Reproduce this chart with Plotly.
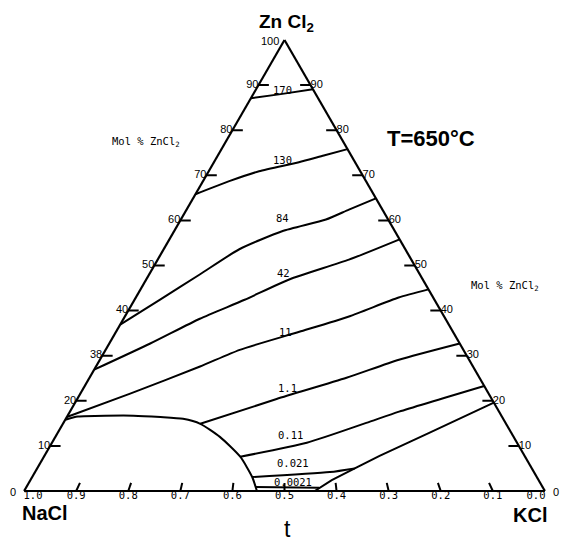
import plotly.graph_objects as go

# ---------------------------------------------------------------------------
# Iso-pressure curves in the NaCl-KCl-ZnCl2 system at 650 C.
# Each curve is given as ZnCl2 content (mol %) and t = NaCl / (NaCl + KCl).
# ---------------------------------------------------------------------------
iso_values = ["170", "130", "84", "42", "11", "1.1", "0.11", "0.021", "0.0021"]

zn_170 = [87.1, 88.0, 89.1]
t_170 = [1.0, 0.56, 0.0]

zn_130 = [65.8, 68.7, 70.9, 72.9, 74.4, 75.8]
t_130 = [1.0, 0.839, 0.668, 0.398, 0.205, 0.0]

zn_84 = [36.9, 42.4, 48.0, 53.6, 57.6, 60.2, 62.4, 64.9]
t_84 = [1.0, 0.916, 0.813, 0.687, 0.511, 0.300, 0.171, 0.0]

zn_42 = [26.9, 32.7, 38.2, 42.4, 46.9, 51.3, 55.8]
t_42 = [1.0, 0.883, 0.763, 0.633, 0.483, 0.246, 0.0]

zn_11 = [16.4, 21.6, 27.6, 31.3, 35.3, 38.7, 42.9, 44.7]
t_11 = [1.0, 0.878, 0.724, 0.625, 0.456, 0.298, 0.116, 0.0]

zn_1_1 = [14.9, 20.4, 25.1, 29.1, 32.7]
t_1_1 = [0.690, 0.519, 0.341, 0.190, 0.0]

zn_0_11 = [7.6, 10.7, 15.1, 17.6, 23.3]
t_0_11 = [0.592, 0.452, 0.315, 0.233, 0.0]

zn_0_021 = [3.1, 4.2, 5.0]
t_0_021 = [0.564, 0.409, 0.358]

zn_0_0021 = [0.9, 0.7]
t_0_0021 = [0.556, 0.433]

# Phase boundaries: the curved solid-liquid boundary and the straight one
zn_dome = [15.8, 16.5, 16.7, 16.4, 16.0, 14.9, 12.0, 7.6, 3.1, 0.0]
t_dome = [1.0, 0.975, 0.848, 0.785, 0.732, 0.690, 0.641, 0.592, 0.564, 0.553]

zn_edge = [0.0, 2.4, 5.0, 7.8, 12.9, 19.6]
t_edge = [0.442, 0.407, 0.358, 0.302, 0.181, 0.0]

# Axis ticks
left_ticks = [10, 20, 30, 40, 50, 60, 70, 80, 90]
left_labels = ["10", "20", "38", "40", "50", "60", "70", "80", "90"]
right_ticks = [10, 20, 30, 40, 50, 60, 70, 80, 90]
right_labels = ["10", "20", "30", "40", "50", "60", "70", "80", "90"]
t_ticks = [0.9, 0.8, 0.7, 0.6, 0.5, 0.4, 0.3, 0.2, 0.1]
t_labels = ["1.0", "0.9", "0.8", "0.7", "0.6", "0.5", "0.4", "0.3", "0.2", "0.1", "0.0"]
t_label_values = [1.0, 0.9, 0.8, 0.7, 0.6, 0.5, 0.4, 0.3, 0.2, 0.1, 0.0]

SUM = 100.0


def to_abc(zn, t):
    """ZnCl2 mol % and t -> ternary (a=ZnCl2, b=NaCl, c=KCl)."""
    a = list(zn)
    b = [(SUM - z) * tt for z, tt in zip(zn, t)]
    c = [(SUM - z) * (1 - tt) for z, tt in zip(zn, t)]
    return a, b, c


fig = go.Figure()

curves = [
    (zn_170, t_170), (zn_130, t_130), (zn_84, t_84), (zn_42, t_42),
    (zn_11, t_11), (zn_1_1, t_1_1), (zn_0_11, t_0_11),
    (zn_0_021, t_0_021), (zn_0_0021, t_0_0021), (zn_dome, t_dome),
]
for zn, t in curves:
    a, b, c = to_abc(zn, t)
    fig.add_trace(go.Scatterternary(
        a=a, b=b, c=c, mode="lines",
        line=dict(color="black", width=2, shape="spline", smoothing=0.6),
        hoverinfo="skip", showlegend=False))

a, b, c = to_abc(zn_edge, t_edge)
fig.add_trace(go.Scatterternary(
    a=a, b=b, c=c, mode="lines", line=dict(color="black", width=2),
    hoverinfo="skip", showlegend=False))

# Tick marks: horizontal dashes on both slanted sides, apex-pointing dashes on the base
TICK = 2.0
BASE_TICK = 1.8
ta, tb, tc = [], [], []
for v in left_ticks:
    ta += [v, v, None]
    tb += [SUM - v, SUM - v - TICK, None]
    tc += [0, TICK, None]
for v in right_ticks:
    ta += [v, v, None]
    tb += [0, TICK, None]
    tc += [SUM - v, SUM - v - TICK, None]
for tv in t_ticks:
    ta += [0, BASE_TICK, None]
    tb += [SUM * tv, (SUM - BASE_TICK) * tv, None]
    tc += [SUM * (1 - tv), (SUM - BASE_TICK) * (1 - tv), None]
fig.add_trace(go.Scatterternary(
    a=ta, b=tb, c=tc, mode="lines", line=dict(color="black", width=2),
    connectgaps=False, hoverinfo="skip", showlegend=False))

tick_font = dict(family="Liberation Sans", size=11, color="black")
mono_font = dict(family="DejaVu Sans Mono", size=10.5, color="black")

# Left side labels (ZnCl2 mol %)
fig.add_trace(go.Scatterternary(
    a=left_ticks, b=[SUM - v for v in left_ticks], c=[0] * len(left_ticks),
    mode="text", text=left_labels, textposition="middle left",
    textfont=tick_font, cliponaxis=False, hoverinfo="skip", showlegend=False))

# Right side labels (ZnCl2 mol %)
fig.add_trace(go.Scatterternary(
    a=right_ticks, b=[0] * len(right_ticks), c=[SUM - v for v in right_ticks],
    mode="text", text=right_labels, textposition="middle right",
    textfont=tick_font, cliponaxis=False, hoverinfo="skip", showlegend=False))

# Base labels (t); end labels nudged inward from the corners
tb_pos = [min(max(v, 0.017), 0.983) for v in t_label_values]
fig.add_trace(go.Scatterternary(
    a=[0] * len(tb_pos), b=[SUM * v for v in tb_pos], c=[SUM * (1 - v) for v in tb_pos],
    mode="text", text=t_labels, textposition="bottom center",
    textfont=mono_font, cliponaxis=False, hoverinfo="skip", showlegend=False))

axis_style = dict(showticklabels=False, showgrid=False, ticks="",
                  linecolor="black", linewidth=2.2, title=dict(text=""))

W, H = 561, 543
ML, MR, MT, MB = 24, 16, 40, 52
PW, PH = W - ML - MR, H - MT - MB


def paper(px, py):
    return (px - ML) / PW, (H - MB - py) / PH


annotations = []


def note(text, px, py, font):
    x, y = paper(px, py)
    annotations.append(dict(text=text, x=x, y=y, xref="paper", yref="paper",
                            showarrow=False, xanchor="center", yanchor="middle",
                            font=font))


# Curve value labels
label_xy = [(282, 90), (282, 160), (282, 218), (283, 273), (285, 332),
            (287, 388), (290, 435), (293, 463), (293, 482)]
for val, (px, py) in zip(iso_values, label_xy):
    note(val, px, py, mono_font)

# Corner values of the ZnCl2 scale
note("100", 270, 41, tick_font)
note("0", 13, 492, tick_font)
note("0", 556, 492, tick_font)

note("<b>Zn Cl<sub>2</sub></b>", 286, 23, dict(family="Liberation Sans", size=19, color="black"))
note("<b>NaCl</b>", 45, 513, dict(family="Liberation Sans", size=20, color="black"))
note("<b>KCl</b>", 530, 515, dict(family="Liberation Sans", size=20, color="black"))
note("<b>T=650°C</b>", 431, 138, dict(family="Liberation Sans", size=22, color="black"))
note("t", 287, 529, dict(family="Liberation Sans", size=23, color="black"))
note("Mol % ZnCl<sub>2</sub>", 146, 142, dict(family="DejaVu Sans Mono", size=10.5, color="black"))
note("Mol % ZnCl<sub>2</sub>", 505, 286, dict(family="DejaVu Sans Mono", size=10.5, color="black"))

fig.update_layout(
    width=W, height=H,
    margin=dict(l=ML, r=MR, t=MT, b=MB),
    paper_bgcolor="white",
    ternary=dict(sum=SUM, bgcolor="white",
                 domain=dict(x=[0, 1], y=[0, 1]),
                 aaxis=axis_style, baxis=axis_style, caxis=axis_style),
    annotations=annotations,
    showlegend=False,
)

fig.write_html("out.html")
